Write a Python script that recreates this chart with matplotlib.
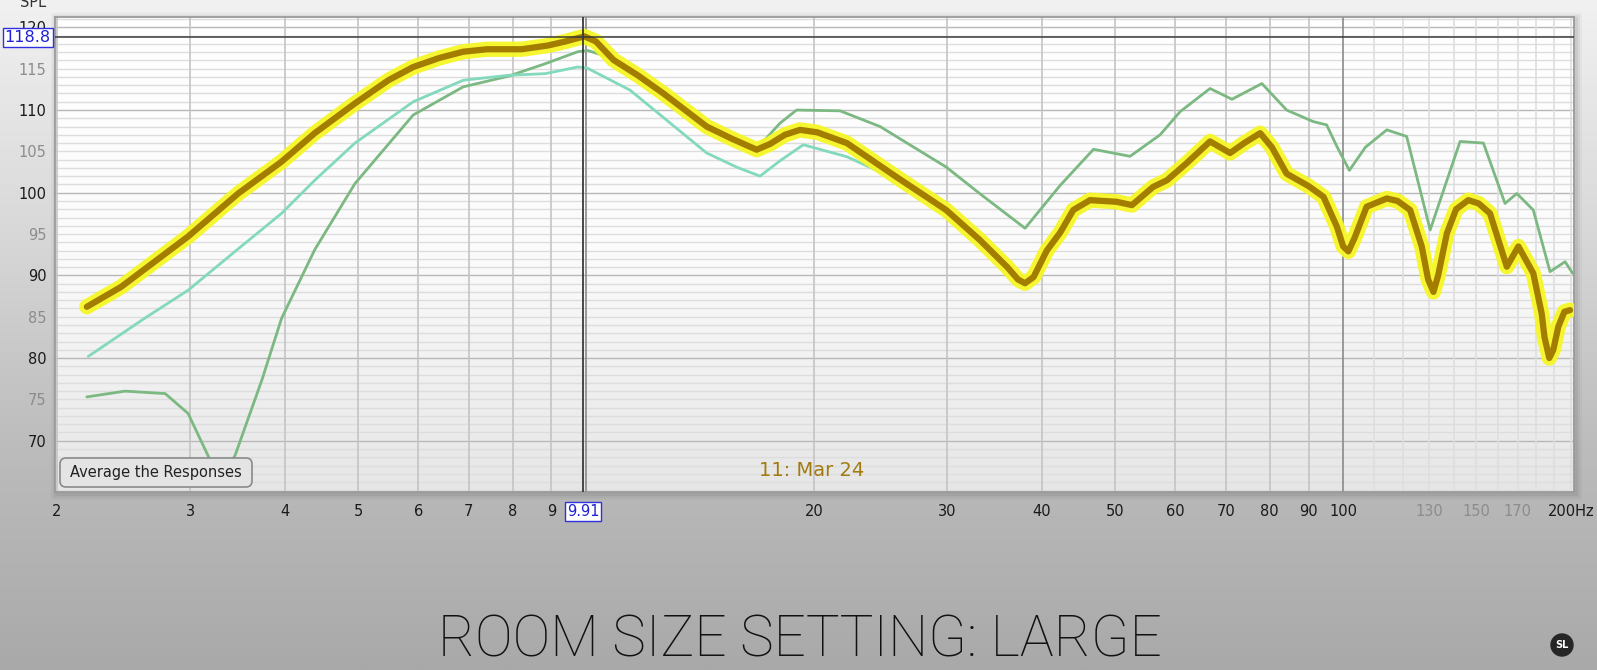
import matplotlib
matplotlib.use('Agg')
import matplotlib.pyplot as plt
import numpy as np
from matplotlib.patches import FancyBboxPatch, Rectangle, Circle
from matplotlib.colors import LinearSegmentedColormap
from matplotlib.ticker import NullLocator

main_freq = [2.19, 2.43, 2.98, 3.47, 3.96, 4.38, 4.95, 5.48, 5.91, 6.4, 6.88, 7.4, 8.22,
             8.9, 9.4, 9.75, 9.95, 10.3, 10.87, 11.7, 12.65, 14.43, 15.6, 16.8, 17.5,
             18.3, 19.16, 20.2, 22.1, 25.7, 29.9, 33.1, 36.0, 37.2, 38.0, 39.0, 40.6,
             42.3, 44.0, 46.3, 50.2, 52.6, 56.1, 58.5, 62.0, 66.7, 70.9, 74.0, 77.7,
             80.5, 84.2, 90.0, 94.2, 98.1, 100.0, 101.6, 103.5, 107.4, 114.2, 118.0,
             122.6, 127.0, 129.5, 131.6, 133.5, 137.1, 141.0, 146.3, 151.0, 156.3,
             164.5, 170.4, 178.3, 182.9, 184.5, 187.2, 189.5, 192.4, 196.0, 199.4]
main_spl = [86.2, 88.6, 94.7, 99.9, 103.75, 107.2, 110.8, 113.6, 115.2, 116.3, 117.05,
            117.35, 117.35, 117.8, 118.3, 118.7, 118.9, 118.3, 116.05, 114.2, 112.0,
            108.0, 106.5, 105.2, 105.9, 107.0, 107.6, 107.3, 106.0, 101.9, 97.9, 94.3,
            91.0, 89.5, 89.05, 89.8, 93.0, 95.2, 97.9, 99.1, 98.9, 98.5, 100.7, 101.5,
            103.5, 106.2, 104.8, 106.0, 107.2, 105.5, 102.3, 100.8, 99.5, 95.9, 93.5,
            92.9, 94.5, 98.3, 99.3, 99.0, 97.9, 93.5, 89.5, 88.0, 90.0, 95.1, 98.0,
            99.1, 98.7, 97.5, 91.05, 93.5, 90.25, 85.4, 82.5, 80.0, 81.0, 83.8, 85.6,
            85.8]

teal_freq = [2.2, 2.61, 2.98, 3.47, 3.96, 4.38, 4.95, 5.91, 6.88, 7.9, 8.83, 9.75,
             10.02, 11.43, 14.43, 15.8, 16.97, 18.0, 19.36, 22.1, 25.7, 29.9]
teal_spl = [80.2, 84.8, 88.2, 93.2, 97.5, 101.5, 106.0, 111.0, 113.6, 114.2, 114.4,
            115.2, 115.1, 112.4, 104.8, 103.1, 102.0, 103.8, 105.8, 104.35, 101.6, 97.8]

green_freq = [2.19, 2.46, 2.78, 2.98, 3.17, 3.3, 3.44, 3.73, 3.96, 4.38, 4.95, 5.91,
              6.88, 7.9, 8.83, 9.75, 10.05, 10.87, 12.65, 14.43, 16.8, 18.03, 18.97,
              21.65, 24.45, 29.9, 33.1, 38.0, 42.3, 46.8, 52.3, 57.3, 60.9, 66.7,
              71.3, 78.1, 84.2, 91.3, 95.1, 98.1, 101.9, 107.0, 114.2, 121.3, 130.3,
              142.7, 153.2, 163.6, 169.6, 178.3, 187.6, 196.4, 201.0]
green_spl = [75.3, 76.0, 75.7, 73.3, 68.1, 65.0, 68.3, 77.35, 84.8, 93.1, 101.1, 109.4,
             112.8, 114.1, 115.6, 117.05, 117.2, 116.2, 112.1, 108.1, 105.3, 108.4,
             110.0, 109.9, 108.0, 103.1, 99.9, 95.7, 100.9, 105.25, 104.4, 107.0,
             109.8, 112.6, 111.3, 113.2, 110.0, 108.6, 108.2, 105.6, 102.7, 105.5,
             107.6, 106.8, 95.5, 106.2, 106.0, 98.7, 99.9, 97.9, 90.45, 91.65, 90.25]

x_ticks = [2, 3, 4, 5, 6, 7, 8, 9, 20, 30, 40, 50, 60, 70, 80, 90, 100, 130, 150, 170, 200]
x_labels = ['2', '3', '4', '5', '6', '7', '8', '9', '20', '30', '40', '50', '60', '70',
            '80', '90', '100', '130', '150', '170', '200Hz']
y_ticks = [70, 75, 80, 85, 90, 95, 100, 105, 110, 115, 120]

cursor_f = 9.91
cursor_db = 118.8

W, H = 1597, 670
L, R, T, B = 55, 1574, 17, 492

fig = plt.figure(figsize=(W / 100, H / 100), dpi=100)

# background layer in pixel coords
bg = fig.add_axes([0, 0, 1, 1], zorder=0)
bg.set_xlim(0, W)
bg.set_ylim(H, 0)
bg.axis('off')
grad = np.linspace(0, 1, 256).reshape(-1, 1)
cm_fig = LinearSegmentedColormap.from_list('figbg', ['#f1f1f1', '#d9d9d9', '#bcbcbc', '#a9a9a9'])
bg.imshow(grad, aspect='auto', cmap=cm_fig, extent=[0, W, H, 0], origin='upper', zorder=0)
# soft shadow round the plot frame
for d, a in [(6, 0.05), (4, 0.07), (2, 0.10)]:
    bg.add_patch(Rectangle((L - d + 2, T - d + 2), R - L + 2 * d, B - T + 2 * d,
                           facecolor='#555555', edgecolor='none', alpha=a, zorder=1))
cm_plot = LinearSegmentedColormap.from_list('plotbg', ['#ffffff', '#fbfbfb', '#e6e6e6'])
bg.imshow(grad, aspect='auto', cmap=cm_plot, extent=[L, R, B, T], origin='upper', zorder=2)
bg.set_xlim(0, W)
bg.set_ylim(H, 0)

# plot axes
ax = fig.add_axes([L / W, 1 - B / H, (R - L) / W, (B - T) / H], zorder=1)
ax.set_facecolor('none')
ax.set_xscale('log')
ax.set_xlim(1.988, 201.8)
ax.set_ylim(63.8, 121.25)

# grid
for db in range(64, 122):
    col = '#b8b8b8' if db % 10 == 0 else '#dddddd'
    ax.axhline(db, color=col, lw=1.0, zorder=1)
vlines = list(range(2, 10)) + list(range(20, 100, 10)) + list(range(110, 201, 10))
for f in vlines:
    col = '#c4c4c4' if f < 100 else '#dedede'
    ax.axvline(f, color=col, lw=1.2, zorder=1)
for f in (10, 100):
    ax.axvline(f, color='#8a8a8a', lw=1.2, zorder=1)

# traces
ax.plot(green_freq, green_spl, color='#7cb882', lw=2.0, zorder=3, solid_capstyle='round',
        solid_joinstyle='round')
ax.plot(teal_freq, teal_spl, color='#82d9bd', lw=2.0, zorder=3, solid_capstyle='round',
        solid_joinstyle='round')
ax.plot(main_freq, main_spl, color='#f6f626', lw=11, zorder=4, solid_capstyle='round',
        solid_joinstyle='round', alpha=0.95)
ax.plot(main_freq, main_spl, color='#a27d00', lw=4.5, zorder=5, solid_capstyle='round',
        solid_joinstyle='round')

# cursors
ax.axhline(cursor_db, color='#3a3a3a', lw=1.1, zorder=6)
ax.axvline(cursor_f, color='#3a3a3a', lw=1.3, zorder=6)

for s in ax.spines.values():
    s.set_color('#9a9a9a')
    s.set_linewidth(1.3)

ax.xaxis.set_minor_locator(NullLocator())
ax.set_xticks(x_ticks)
ax.set_xticklabels(x_labels)
ax.set_yticks(y_ticks)
ax.set_yticklabels([str(v) for v in y_ticks])
ax.tick_params(length=0, labelsize=10.5)
ax.tick_params(axis='x', pad=9)
ax.tick_params(axis='y', pad=6)
for lab, v in zip(ax.get_xticklabels(), x_ticks):
    lab.set_color('#8c8c8c' if v in (130, 150, 170) else '#1a1a1a')
for lab, v in zip(ax.get_yticklabels(), y_ticks):
    lab.set_color('#1a1a1a' if v % 10 == 0 else '#8c8c8c')

# cursor readouts
ax.annotate(f'{cursor_f:.2f}', xy=(cursor_f, 0), xycoords=('data', 'axes fraction'),
            xytext=(0, -14), textcoords='offset points', ha='center', va='center',
            fontsize=10.5, color='#2020d8', zorder=10, annotation_clip=False,
            bbox=dict(boxstyle='square,pad=0.12', fc='white', ec='#3030e0', lw=1))
ax.annotate(f'{cursor_db:.1f}', xy=(0, cursor_db), xycoords=('axes fraction', 'data'),
            xytext=(-3, 0), textcoords='offset points', ha='right', va='center',
            fontsize=11.5, color='#2020d8', zorder=10, annotation_clip=False,
            bbox=dict(boxstyle='square,pad=0.12', fc='white', ec='#3030e0', lw=1))

# overlay layer in pixel coords
ov = fig.add_axes([0, 0, 1, 1], zorder=3)
ov.set_xlim(0, W)
ov.set_ylim(H, 0)
ov.axis('off')
ov.patch.set_alpha(0)

ov.text(20, 10, 'SPL', fontsize=10.5, color='#333333', ha='left', va='bottom')

btn = FancyBboxPatch((60, 458), 192, 29, boxstyle='round,pad=0,rounding_size=6',
                     facecolor='#e4e4e4', edgecolor='#8a8a8a', lw=1.2)
ov.add_patch(btn)
ov.text(156, 473, 'Average the Responses', fontsize=10.5, color='#222222',
        ha='center', va='center')

ov.text(812, 471, '11: Mar 24', fontsize=14, color='#a27a0e', ha='center', va='center')

ov.text(800, 641, 'ROOM SIZE SETTING: LARGE', fontsize=40.8, color='#111111',
        ha='center', va='center', family=['Roboto', 'DejaVu Sans'], fontweight='light')

ov.add_patch(Circle((1562, 645), 11, color='#262626'))
ov.text(1562, 645, 'SL', fontsize=7, color='white', ha='center', va='center',
        fontweight='bold')

fig.savefig('out.png', dpi=100)
